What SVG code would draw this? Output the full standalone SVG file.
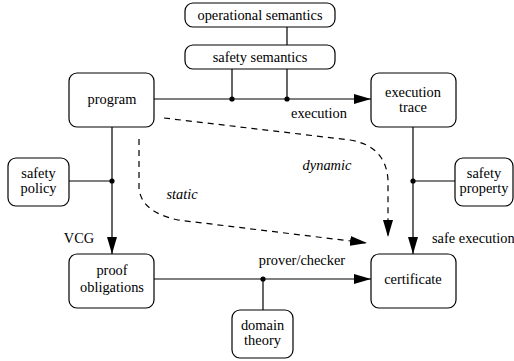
<svg xmlns="http://www.w3.org/2000/svg" width="514" height="361" viewBox="0 0 514 361">
<style>
.box{fill:#fff;stroke:#000;stroke-width:1.2}
.ln{fill:none;stroke:#000;stroke-width:1.2}
.dash{fill:none;stroke:#000;stroke-width:1.2;stroke-dasharray:6,5}
text{font-size:14.4px;fill:#000;text-anchor:middle}
.it{font-style:italic}
</style>
<defs>
<marker id="ah" viewBox="0 0 17 10" refX="17" refY="5" markerWidth="17" markerHeight="10" markerUnits="userSpaceOnUse" orient="auto">
<path d="M0,0 L17,5 L0,10 Z" fill="#000"/>
</marker>
</defs>
<rect width="514" height="361" fill="#fff"/>
<g font-family="Liberation Serif, DejaVu Serif, serif">
<g id="connectors">
<line class="ln" x1="287" y1="27" x2="287" y2="45"/>
<line class="ln" x1="154" y1="99" x2="371" y2="99" marker-end="url(#ah)"/>
<line class="ln" x1="232" y1="69" x2="232" y2="99"/>
<line class="ln" x1="287" y1="69" x2="287" y2="99"/>
<circle cx="232" cy="99" r="2.6"/>
<circle cx="287" cy="99" r="2.6"/>
<line class="ln" x1="112" y1="127" x2="112" y2="254" marker-end="url(#ah)"/>
<line class="ln" x1="69" y1="181" x2="112" y2="181"/>
<circle cx="112" cy="181" r="2.6"/>
<line class="ln" x1="413" y1="127" x2="413" y2="254" marker-end="url(#ah)"/>
<line class="ln" x1="413" y1="181" x2="455" y2="181"/>
<circle cx="413" cy="181" r="2.6"/>
<line class="ln" x1="154" y1="279" x2="371" y2="279" marker-end="url(#ah)"/>
<line class="ln" x1="263" y1="279" x2="263" y2="310"/>
<circle cx="263" cy="279" r="2.6"/>
<path class="dash" d="M164,118 L350,140 Q386,146 388,180 L388,237" marker-end="url(#ah)"/>
<path class="dash" d="M139,139 L139,188 Q141,212 178,220 L367,243" marker-end="url(#ah)"/>
<text x="319" y="118">execution</text>
<text x="79" y="243">VCG</text>
<text x="432" y="243" style="text-anchor:start">safe execution</text>
<text x="302" y="265">prover/checker</text>
<text class="it" x="182" y="199">static</text>
<text class="it" x="327" y="170">dynamic</text>
</g>
<g id="operational_semantics">
<rect class="box" x="185" y="3" width="150" height="24" rx="8"/>
<text x="260" y="20">operational semantics</text>
</g>
<g id="safety_semantics">
<rect class="box" x="185" y="45" width="150" height="24" rx="8"/>
<text x="260" y="62">safety semantics</text>
</g>
<g id="program">
<rect class="box" x="69" y="73" width="85" height="54" rx="8"/>
<text x="112" y="104">program</text>
</g>
<g id="execution_trace">
<rect class="box" x="371" y="73" width="85" height="54" rx="8"/>
<text x="413" y="97">execution</text>
<text x="413" y="112">trace</text>
</g>
<g id="safety_policy">
<rect class="box" x="8" y="158" width="61" height="48" rx="8"/>
<text x="38.5" y="178">safety</text>
<text x="38.5" y="193">policy</text>
</g>
<g id="safety_property">
<rect class="box" x="455" y="158" width="58" height="48" rx="8"/>
<text x="484" y="178">safety</text>
<text x="484" y="193">property</text>
</g>
<g id="proof_obligations">
<rect class="box" x="69" y="254" width="85" height="54" rx="8"/>
<text x="112" y="275">proof</text>
<text x="112" y="292">obligations</text>
</g>
<g id="certificate">
<rect class="box" x="371" y="254" width="85" height="54" rx="8"/>
<text x="413" y="284">certificate</text>
</g>
<g id="domain_theory">
<rect class="box" x="232" y="310" width="61" height="48" rx="8"/>
<text x="262.5" y="330">domain</text>
<text x="262.5" y="345">theory</text>
</g>
</g>
</svg>
